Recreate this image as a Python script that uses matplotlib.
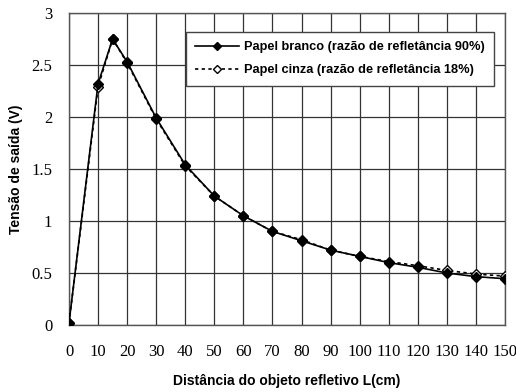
import matplotlib
matplotlib.use("Agg")
import matplotlib.pyplot as plt

x = [0, 10, 15, 20, 30, 40, 50, 60, 70, 80, 90, 100, 110, 120, 130, 140, 150]
branco = [0.02, 2.32, 2.75, 2.53, 1.99, 1.54, 1.24, 1.05, 0.90, 0.81, 0.72, 0.66, 0.60, 0.555, 0.50, 0.465, 0.445]
cinza = [0.02, 2.29, 2.75, 2.52, 1.98, 1.53, 1.24, 1.05, 0.90, 0.82, 0.72, 0.66, 0.61, 0.57, 0.525, 0.49, 0.47]
xticks = list(range(0, 151, 10))
yticks = [0, 0.5, 1, 1.5, 2, 2.5, 3]
ytick_labels = ["0", "0.5", "1", "1.5", "2", "2.5", "3"]

fig = plt.figure(figsize=(5.16, 3.92), dpi=100)
ax = fig.add_axes([69/516, (392-325)/392, (505-69)/516, (325-13)/392])

ax.plot(x, branco, color="black", lw=1.2, marker="D", ms=5, mfc="black", mec="black",
        label="Papel branco (razão de refletância 90%)", zorder=4)
ax.plot(x, cinza, color="black", lw=1.2, ls=(0, (2, 2)), marker="D", ms=5, mfc="white", mec="black",
        label="Papel cinza (razão de refletância 18%)", zorder=3)

ax.set_xlim(0, 150)
ax.set_ylim(0, 3)
ax.set_xticks(xticks)
ax.set_yticks(yticks)
ax.set_yticklabels(ytick_labels)
ax.grid(True, color="#333333", lw=0.9)
ax.set_axisbelow(True)
for s in ax.spines.values():
    s.set_color("#555555")
    s.set_linewidth(1.0)
ax.tick_params(axis="x", length=0, pad=14, labelsize=12)
ax.tick_params(axis="y", length=0, pad=12, labelsize=12)
for lab in ax.get_xticklabels() + ax.get_yticklabels():
    lab.set_family("Liberation Serif")

ax.set_xlabel("Distância do objeto refletivo L(cm)", family="Liberation Sans", weight="bold", fontsize=10, labelpad=10)
ax.set_ylabel("Tensão de saída (V)", family="Liberation Sans", weight="bold", fontsize=10, labelpad=6)

leg = ax.legend(loc="upper right", bbox_to_anchor=(0.99, 0.96), prop={"family": "Liberation Sans", "weight": "bold", "size": 9.2},
                frameon=True, fancybox=False, framealpha=1, edgecolor="#444444", handlelength=3.4,
                handletextpad=0.4, borderpad=0.75, labelspacing=0.85, markerscale=0.9)
leg.get_frame().set_linewidth(1.0)

fig.savefig("out.png", dpi=100)
